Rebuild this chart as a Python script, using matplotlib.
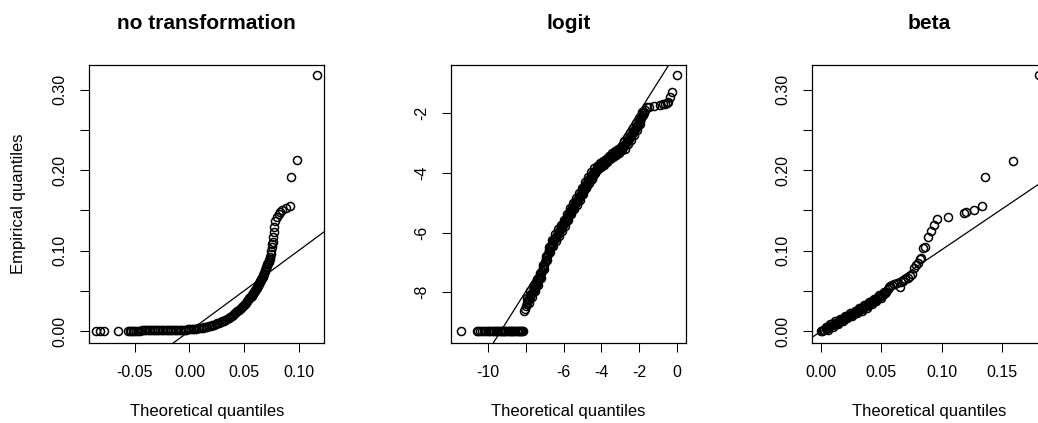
"""
three normal / beta qq plots of the same proportions:
raw values, logit values and beta quantiles
"""

import matplotlib
matplotlib.use("Agg")
import matplotlib.pyplot as plt

plt.rcParams["font.family"] = ["Liberation Sans", "DejaVu Sans"]
plt.rcParams["axes.unicode_minus"] = False

# no transformation: theoretical (normal) vs empirical quantiles
raw_theo = [
    -0.0860, -0.0825, -0.0785, -0.0658, -0.0563, -0.0550, -0.0537, -0.0520, -0.0505,
    -0.0490, -0.0470, -0.0452, -0.0436,
    -0.042, -0.0405, -0.039, -0.0375, -0.036, -0.0345, -0.033, -0.0315, -0.030,
    -0.0285, -0.027, -0.0255, -0.024, -0.0225, -0.021, -0.0195, -0.018, -0.0165,
    -0.015, -0.0135, -0.012, -0.0105, -0.009, -0.0075, -0.006, -0.0045, -0.003, -0.0015,
    0.000, 0.0015, 0.003, 0.0045, 0.006, 0.0075, 0.009, 0.0105, 0.012, 0.0135, 0.015,
    0.0165, 0.018, 0.0195, 0.021, 0.0225, 0.024, 0.0255, 0.027, 0.0285, 0.030, 0.0315,
    0.033, 0.0345, 0.036, 0.0375, 0.039,
    0.040, 0.041, 0.042, 0.043, 0.044, 0.045, 0.046, 0.047, 0.048, 0.049, 0.050,
    0.051, 0.052, 0.053, 0.054, 0.055, 0.056,
    0.0565, 0.0570, 0.0575, 0.0580, 0.0585, 0.0590, 0.0595, 0.0600, 0.0605, 0.0610,
    0.0615, 0.0620, 0.0625, 0.0630, 0.0635, 0.0640, 0.0645, 0.0650, 0.0655, 0.0660,
    0.0665, 0.0670, 0.0675, 0.0680, 0.0685, 0.0690, 0.0695, 0.0700, 0.0705, 0.0710,
    0.0715, 0.0720, 0.0725, 0.0730, 0.0735, 0.0740, 0.0745, 0.0750,
    0.0754, 0.0758, 0.0762, 0.0766, 0.0772, 0.0772, 0.0788, 0.0803, 0.0818, 0.0834,
    0.0850, 0.0889, 0.0919, 0.0932, 0.0987, 0.1165]
raw_emp = [
    0.0003, 0.0003, 0.0003, 0.0004, 0.0005, 0.0005, 0.0005, 0.0005, 0.0006,
    0.0006, 0.0006, 0.0006, 0.0007,
    0.0007, 0.0007, 0.0007, 0.0007, 0.0008, 0.0008, 0.0008, 0.0008, 0.0009,
    0.0009, 0.0009, 0.0009, 0.0010, 0.0010, 0.0010, 0.0011, 0.0011, 0.0012,
    0.0012, 0.0013, 0.0013, 0.0014, 0.0015, 0.0016, 0.0017, 0.0018, 0.0019, 0.0020,
    0.0021, 0.0023, 0.0025, 0.0027, 0.0029, 0.0032, 0.0035, 0.0038, 0.0042, 0.0046, 0.0050,
    0.0055, 0.0060, 0.0066, 0.0072, 0.0079, 0.0086, 0.0094, 0.0102, 0.0111, 0.0120, 0.0130,
    0.0141, 0.0153, 0.0165, 0.0178, 0.0192,
    0.0200, 0.0210, 0.0221, 0.0232, 0.0244, 0.0256, 0.0268, 0.0281, 0.0295, 0.0309, 0.0324,
    0.0339, 0.0355, 0.0371, 0.0388, 0.0405, 0.0423,
    0.0432, 0.0442, 0.0452, 0.0461, 0.0471, 0.0480, 0.0490, 0.0500, 0.0511, 0.0522,
    0.0534, 0.0546, 0.0558, 0.0570, 0.0582, 0.0594, 0.0606, 0.0620, 0.0634, 0.0648,
    0.0663, 0.0678, 0.0694, 0.0710, 0.0726, 0.0742, 0.0758, 0.0775, 0.0792, 0.0810,
    0.0828, 0.0846, 0.0864, 0.0882, 0.0900, 0.0925, 0.0955, 0.0990,
    0.1040, 0.1080, 0.1110, 0.1174, 0.1237, 0.1300, 0.1370, 0.1424, 0.1457, 0.1486,
    0.1500, 0.1536, 0.1560, 0.1920, 0.2130, 0.3180]

# logit
logit_theo = [
    -11.46, -10.62, -10.53, -10.44, -10.35, -10.22, -10.13, -10.04, -9.95, -9.86,
    -9.77, -9.68, -9.60, -9.52, -9.46, -9.40, -9.34, -9.28, -9.22, -9.16, -9.10,
    -9.04, -8.98, -8.92, -8.86, -8.80, -8.74, -8.68, -8.62, -8.56, -8.50, -8.44,
    -8.38, -8.32, -8.26, -8.20, -8.14,
    -8.08, -8.04,
    -8.00, -7.96, -7.92, -7.88, -7.84, -7.80, -7.76, -7.72, -7.68, -7.64, -7.60,
    -7.56, -7.52, -7.48, -7.44, -7.40, -7.36, -7.32, -7.28, -7.24, -7.20, -7.16,
    -7.12, -7.08, -7.04, -7.00, -6.96, -6.92, -6.88, -6.84, -6.80, -6.76, -6.72,
    -6.68, -6.64, -6.60, -6.56, -6.52, -6.48, -6.44, -6.40, -6.36, -6.32, -6.28,
    -6.24, -6.20, -6.16, -6.12, -6.08, -6.04, -6.00, -5.96, -5.92, -5.88, -5.84,
    -5.80, -5.76, -5.72, -5.68, -5.64, -5.60, -5.56, -5.52, -5.48, -5.44, -5.40,
    -5.36, -5.32, -5.28, -5.24, -5.20, -5.16, -5.12, -5.08, -5.04, -5.00, -4.96,
    -4.92, -4.88, -4.84, -4.80, -4.76, -4.72, -4.68, -4.64, -4.60, -4.56, -4.52,
    -4.48, -4.44, -4.40, -4.36, -4.32, -4.28, -4.24, -4.20, -4.16, -4.12, -4.08,
    -4.04, -4.00, -3.96, -3.92, -3.88, -3.84, -3.80, -3.76, -3.72, -3.68, -3.64,
    -3.60, -3.56, -3.52, -3.48, -3.44, -3.40, -3.36, -3.32, -3.28, -3.24, -3.20,
    -3.16, -3.12, -3.08, -3.04, -3.00, -2.96, -2.92, -2.88, -2.84, -2.80, -2.76,
    -2.72, -2.68, -2.64, -2.60, -2.56, -2.52, -2.48, -2.44, -2.40, -2.36, -2.32,
    -2.28, -2.24, -2.20, -2.16, -2.12, -2.08, -2.04, -2.00, -1.96, -1.92, -1.88,
    -1.84, -1.80, -1.76, -1.72, -1.68,
    -1.60, -1.45, -1.21, -0.89, -0.75, -0.63, -0.52, -0.45, -0.36, -0.27, 0.03]
logit_emp = [-9.30] * 37 + [
    -8.62, -8.55,
    -8.45, -8.39, -8.33, -8.27, -8.21, -8.15, -8.10, -8.05, -8.01, -7.96, -7.92,
    -7.87, -7.82, -7.77, -7.72, -7.66, -7.60, -7.55, -7.49, -7.43, -7.36, -7.29,
    -7.22, -7.15, -7.07, -7.00, -6.92, -6.85, -6.77, -6.70, -6.62, -6.57, -6.51,
    -6.46, -6.40, -6.35, -6.29, -6.25, -6.21, -6.17, -6.13, -6.08, -6.04, -6.00,
    -5.96, -5.92, -5.88, -5.84, -5.79, -5.75, -5.71, -5.67, -5.62, -5.58, -5.54,
    -5.49, -5.44, -5.39, -5.34, -5.29, -5.24, -5.19, -5.14, -5.10, -5.06, -5.02,
    -4.98, -4.95, -4.91, -4.87, -4.83, -4.79, -4.74, -4.70, -4.65, -4.60, -4.55,
    -4.51, -4.46, -4.41, -4.36, -4.32, -4.28, -4.24, -4.20, -4.17, -4.13, -4.09,
    -4.05, -4.02, -3.98, -3.95, -3.92, -3.89, -3.86, -3.83, -3.80, -3.78, -3.75,
    -3.73, -3.71, -3.70, -3.68, -3.66, -3.64, -3.62, -3.60, -3.58, -3.55, -3.53,
    -3.50, -3.48, -3.46, -3.44, -3.42, -3.41, -3.39, -3.37, -3.35, -3.34, -3.32,
    -3.30, -3.28, -3.27, -3.25, -3.23, -3.20, -3.17, -3.14, -3.11, -3.08, -3.06,
    -3.03, -3.00, -2.97, -2.93, -2.89, -2.85, -2.81, -2.77, -2.73, -2.69, -2.64,
    -2.60, -2.56, -2.52, -2.48, -2.44, -2.40, -2.36, -2.31, -2.26, -2.21, -2.16,
    -2.10, -2.05, -1.99, -1.94, -1.88,
    -1.80, -1.78, -1.76, -1.72, -1.70, -1.69, -1.67, -1.62, -1.44, -1.28, -0.72]

# points seen on the upper-left and lower-right edges of the thick logit band
logit_edge_theo = [
    -7.92, -7.76, -7.60, -7.44, -7.28, -7.12, -6.96, -6.80, -6.64, -6.48, -6.32,
    -6.16, -6.00, -5.84, -5.68, -5.52, -5.36, -5.20, -5.04, -4.88, -4.72, -4.56,
    -4.40, -4.24, -4.08, -3.92, -3.76, -3.60, -3.44, -3.28, -3.12, -2.96, -2.80,
    -2.64, -2.48, -2.32, -2.16, -2.00, -1.84,
    -7.84, -7.68, -7.52, -7.36, -7.20, -7.04, -6.88, -6.72, -6.56, -6.40, -6.24,
    -6.08, -5.92, -5.76, -5.60, -5.44, -5.28, -5.12, -4.96, -4.80, -4.64, -4.48,
    -4.32, -4.16, -4.00, -3.84, -3.68, -3.52, -3.36, -3.20, -3.04, -2.88, -2.72,
    -2.56, -2.40, -2.24, -2.08, -1.92]
logit_edge_emp = [
    -8.18, -7.95, -7.77, -7.57, -7.34, -7.07, -6.77, -6.47, -6.25, -6.06, -5.89,
    -5.73, -5.56, -5.39, -5.19, -4.99, -4.83, -4.68, -4.50, -4.31, -4.13, -3.98,
    -3.83, -3.78, -3.67, -3.60, -3.52, -3.42, -3.34, -3.27, -3.20, -3.12, -2.93,
    -2.82, -2.66, -2.49, -2.33, -2.16, -1.95,
    -8.36, -8.16, -7.97, -7.75, -7.51, -7.22, -6.92, -6.66, -6.44, -6.28, -6.11,
    -5.94, -5.77, -5.59, -5.39, -5.21, -5.06, -4.89, -4.70, -4.51, -4.35, -4.20,
    -4.00, -3.88, -3.79, -3.72, -3.63, -3.54, -3.47, -3.40, -3.33, -3.22, -3.18,
    -3.04, -2.88, -2.71, -2.55, -2.36]

# beta
beta_theo = [
    0.000, 0.001, 0.002, 0.003, 0.004, 0.005, 0.006, 0.007, 0.008, 0.009, 0.010,
    0.011, 0.012, 0.013, 0.014, 0.015, 0.016, 0.017, 0.018, 0.019, 0.020, 0.021,
    0.022, 0.023, 0.024, 0.025, 0.026, 0.027, 0.028, 0.029, 0.030, 0.031, 0.032,
    0.033, 0.034, 0.035, 0.036, 0.037, 0.038, 0.039, 0.040, 0.041, 0.042, 0.043,
    0.044, 0.045, 0.046, 0.047, 0.048, 0.049, 0.050, 0.051, 0.052, 0.053, 0.054,
    0.0555, 0.0565, 0.0575, 0.059, 0.061, 0.063, 0.0656, 0.0665, 0.068,
    0.070, 0.072, 0.0735, 0.0755, 0.0773, 0.079, 0.0805, 0.0818, 0.083,
    0.0843, 0.0862, 0.0884, 0.0912, 0.0935, 0.0962, 0.1057, 0.1185, 0.1204,
    0.1269, 0.1338, 0.1363, 0.1594, 0.1808]
beta_emp = [
    0.0003, 0.0006, 0.0012, 0.0019, 0.0026, 0.0034, 0.0043, 0.0051, 0.0060, 0.0069, 0.0078,
    0.0087, 0.0096, 0.0104, 0.0113, 0.0121, 0.0130, 0.0138, 0.0147, 0.0155, 0.0164, 0.0172,
    0.0181, 0.0189, 0.0197, 0.0205, 0.0213, 0.0221, 0.0229, 0.0237, 0.0246, 0.0254, 0.0262,
    0.0271, 0.0280, 0.0289, 0.0298, 0.0307, 0.0317, 0.0327, 0.0337, 0.0347, 0.0357, 0.0367,
    0.0377, 0.0387, 0.0398, 0.0409, 0.0420, 0.0430, 0.0440, 0.0451, 0.0462, 0.0476, 0.0490,
    0.0520, 0.0545, 0.0560, 0.0570, 0.0580, 0.0595, 0.0544, 0.0610, 0.0625,
    0.0645, 0.0665, 0.0680, 0.0715, 0.0780, 0.0820, 0.0850, 0.0895, 0.0910,
    0.1030, 0.1050, 0.1174, 0.1250, 0.1320, 0.1390, 0.1424, 0.1473, 0.1480,
    0.1500, 0.1550, 0.1920, 0.2120, 0.3180]

# edges of the beta band
beta_edge_theo = [
    0.004, 0.008, 0.012, 0.016, 0.020, 0.024, 0.028, 0.032, 0.036, 0.040, 0.044,
    0.048, 0.052,
    0.006, 0.010, 0.014, 0.018, 0.022, 0.026, 0.030, 0.034, 0.038, 0.042, 0.046, 0.050]
beta_edge_emp = [
    0.0051, 0.0085, 0.0121, 0.0155, 0.0189, 0.0222, 0.0254, 0.0287, 0.0323, 0.0362, 0.0402,
    0.0445, 0.0487,
    0.0018, 0.0053, 0.0088, 0.0122, 0.0156, 0.0188, 0.0221, 0.0255, 0.0292, 0.0332, 0.0373, 0.0415]

# qqline: intercept, slope
raw_line = (0.0, 1.0)
logit_line = (0.04, 1.0)
beta_line = (-0.0005, 1.015)

titles = ["no transformation", "logit", "beta"]


def draw_points(ax, x, y):
    ax.plot(x, y, "o", mfc="none", mec="black", ms=5.8, mew=1.1, clip_on=False)


def qq_panel(ax, x, y, line, title, xlim, ylim, xticks, xlabels, yticks, ylabels):
    draw_points(ax, x, y)
    ax.axline((0, line[0]), slope=line[1], color="black", lw=0.9)
    ax.set_xlim(xlim)
    ax.set_ylim(ylim)
    ax.set_xticks(xticks, xlabels)
    ax.set_yticks(yticks, ylabels)
    ax.tick_params(length=6.5, width=0.75, labelsize=11.5, pad=9)
    ax.tick_params(axis="y", labelrotation=90)
    for t in ax.get_yticklabels():
        t.set_va("center")
    for s in ax.spines.values():
        s.set_linewidth(0.9)
    ax.set_title(title, fontsize=15, fontweight="bold", pad=26)
    ax.set_xlabel("Theoretical quantiles", fontsize=12)
    ax.xaxis.label.set_va("center")
    ax.xaxis.set_label_coords(0.5, -0.245)


fig = plt.figure(figsize=(10.38, 4.23), dpi=100)
bottom, height = 0.1891, 0.6572
ax1 = fig.add_axes([0.0857, bottom, 0.2269, height])
ax2 = fig.add_axes([0.4345, bottom, 0.2261, height])
ax3 = fig.add_axes([0.7823, bottom, 0.2265, height])

prop_ticks = [0.0, 0.05, 0.10, 0.15, 0.20, 0.25, 0.30]
prop_labels = ["0.00", "", "0.10", "", "0.20", "", "0.30"]

qq_panel(ax1, raw_theo, raw_emp, raw_line, titles[0],
         (-0.0922, 0.1238), (-0.0149, 0.331),
         [-0.05, 0.0, 0.05, 0.10], ["-0.05", "0.00", "0.05", "0.10"],
         prop_ticks, prop_labels)
qq_panel(ax2, logit_theo, logit_emp, logit_line, titles[1],
         (-11.98, 0.48), (-9.70, -0.38),
         [-10, -8, -6, -4, -2, 0], ["-10", "", "-6", "-4", "-2", "0"],
         [-8, -6, -4, -2], ["-8", "-6", "-4", "-2"])
draw_points(ax2, logit_edge_theo, logit_edge_emp)
qq_panel(ax3, beta_theo, beta_emp, beta_line, titles[2],
         (-0.0073, 0.1875), (-0.0149, 0.331),
         [0.0, 0.05, 0.10, 0.15], ["0.00", "0.05", "0.10", "0.15"],
         prop_ticks, prop_labels)
draw_points(ax3, beta_edge_theo, beta_edge_emp)

ax1.set_ylabel("Empirical quantiles", fontsize=12)
ax1.yaxis.label.set_va("center")
ax1.yaxis.set_label_coords(-0.30, 0.5)

fig.savefig("out.png", dpi=100)
